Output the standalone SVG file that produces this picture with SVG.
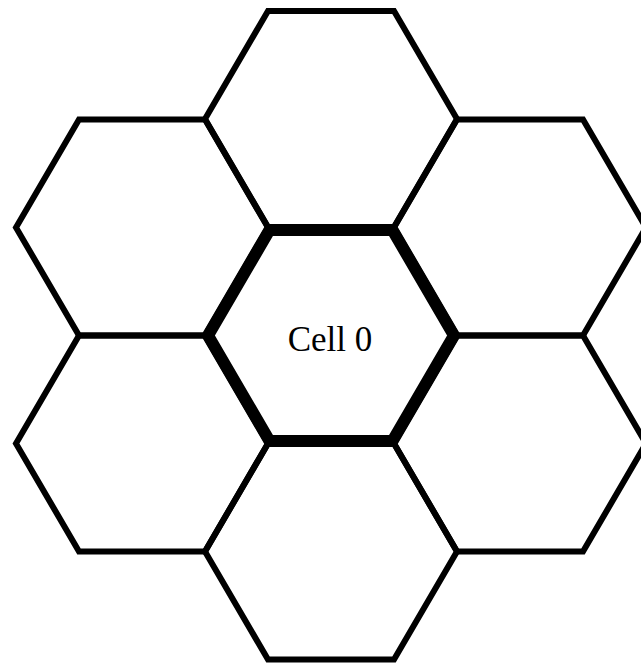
<svg xmlns="http://www.w3.org/2000/svg" xmlns:xlink="http://www.w3.org/1999/xlink" width="641" height="669" viewBox="0 0 641 669">
  <style>
    .cell { fill: none; stroke: #000; stroke-width: 6; stroke-linejoin: miter; }
    .center { fill: none; stroke: #000; stroke-width: 12; stroke-linejoin: miter; }
    .label { font-family: "Liberation Serif", "Times New Roman", serif; font-size: 35px; fill: #000; text-anchor: middle; }
  </style>
  <defs>
    <polygon id="hex" points="-126,0 -63,-108 63,-108 126,0 63,108 -63,108"/>
  </defs>
  <rect width="641" height="669" fill="#fff"/>
  <g id="cell-top"><use xlink:href="#hex" class="cell" transform="translate(331,119)"/></g>
  <g id="cell-upper-left"><use xlink:href="#hex" class="cell" transform="translate(142,227.5)"/></g>
  <g id="cell-upper-right"><use xlink:href="#hex" class="cell" transform="translate(520,227.5)"/></g>
  <g id="cell-lower-left"><use xlink:href="#hex" class="cell" transform="translate(142,443.5)"/></g>
  <g id="cell-lower-right"><use xlink:href="#hex" class="cell" transform="translate(520,443.5)"/></g>
  <g id="cell-bottom"><use xlink:href="#hex" class="cell" transform="translate(331,551.5)"/></g>
  <g id="cell-0">
    <polygon class="center" points="208,335.5 269.5,230 392.5,230 454,335.5 392.5,441 269.5,441"/>
    <text class="label" x="330" y="351">Cell 0</text>
  </g>
  <g id="connectors"></g>
</svg>
